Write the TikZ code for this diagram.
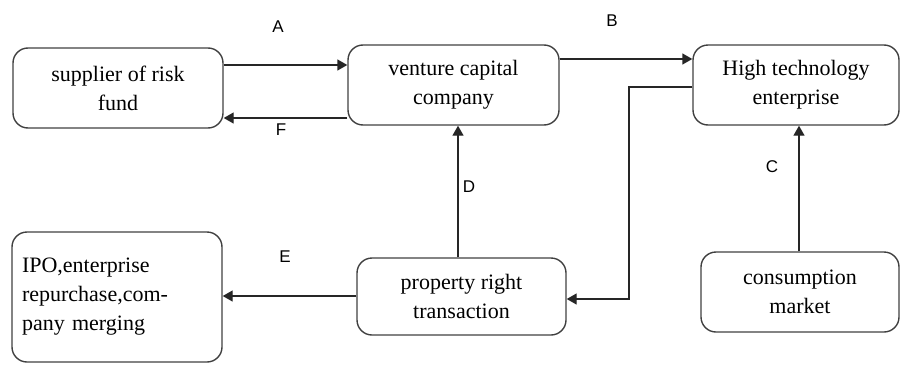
\documentclass[tikz,border=0pt]{standalone}
\usepackage{fontspec}
\setmainfont{Liberation Serif}
\newfontfamily\lblfont{Liberation Sans}
\usetikzlibrary{arrows.meta}
\begin{document}
\begin{tikzpicture}[x=1pt,y=-1pt,
  box/.style={draw=black!75,line width=1.4pt,rounded corners=15pt,align=center,
    font=\fontsize{22}{29}\selectfont,inner sep=0pt},
  arr/.style={draw=black!85,line width=1.4pt,-{Triangle[length=10pt,width=11pt]}},
  lbl/.style={font=\lblfont\fontsize{17}{20}\selectfont,inner sep=0pt}]
\useasboundingbox (0,0) rectangle (901,364);
\node[box,minimum width=210pt,minimum height=80pt] (sup) at (118,88) {supplier of risk\\fund};
\node[box,minimum width=211pt,minimum height=80pt] (vc) at (453.5,85) {venture capital\\company};
\node[box,minimum width=206pt,minimum height=80pt] (ht) at (796,85) {High technology\\enterprise};
\node[box,minimum width=198pt,minimum height=80pt] (cm) at (800,292) {consumption\\market};
\node[box,minimum width=209pt,minimum height=77pt] (pr) at (461.5,296.5) {property right\\transaction};
\node[box,minimum width=210pt,minimum height=130pt,align=left,text width=190pt] (ipo) at (117,297) {IPO,enterprise\\repurchase,com-\\pany merging};
\draw[arr] (sup.east|-0,65) -- (vc.west|-0,65);
\draw[arr] (vc.west|-0,118) -- (sup.east|-0,118);
\draw[arr] (vc.east|-0,59) -- (ht.west|-0,59);
\coordinate (bend) at (629,299);
\draw[arr] (ht.west|-0,87) -- (bend|-0,87) -- (bend) -- (pr.east|-bend);
\draw[arr] (cm.north-|799,0) -- (ht.south-|799,0);
\draw[arr] (pr.north-|458,0) -- (vc.south-|458,0);
\draw[arr] (pr.west|-0,296) -- (ipo.east|-0,296);
\node[lbl] (la) at (278,27) {A};
\node[lbl] (lb) at (612,21) {B};
\node[lbl] (lc) at (772,167) {C};
\node[lbl] (ld) at (469,187) {D};
\node[lbl] (le) at (285,257) {E};
\node[lbl] (lf) at (281,130) {F};
\end{tikzpicture}
\end{document}
